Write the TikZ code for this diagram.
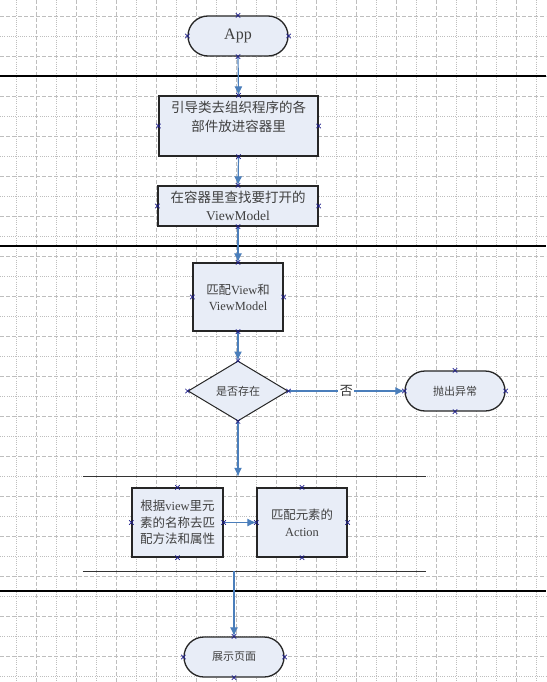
\documentclass[tikz,border=0pt]{standalone}
\usepackage{fontspec}
\setmainfont{Liberation Serif}
\newfontfamily\cjk{Noto Sans CJK SC}
\usetikzlibrary{shapes.geometric,arrows.meta}
\definecolor{boxfill}{HTML}{E8EDF7}
\definecolor{flowblue}{HTML}{4A7EBB}
\definecolor{pinblue}{HTML}{1C1C8A}
\definecolor{gridgray}{HTML}{BEBEBE}
\newcommand\zh[1]{{\cjk #1}}
\newcommand\fs[2]{\fontsize{#1}{#2}\selectfont}

\tikzset{
  proc/.style={draw=black!85, line width=1.3pt, fill=boxfill, inner sep=0pt,
    align=center, text=black!75},
  term/.style={proc, rounded corners=20pt, minimum width=100pt, minimum height=40pt},
  decide/.style={proc, diamond, aspect=1.667, line width=1pt,
    minimum width=100pt, minimum height=60pt},
  flow/.style={flowblue, line width=1.2pt, -{Latex[length=9pt,width=8pt]}},
  pin/.style={pinblue, line width=0.7pt},
  lane/.style={black, line width=1.8pt},
  grpline/.style={black!80, line width=1.3pt},
  griddash/.style={gridgray, line width=0.8pt, dash pattern=on 4pt off 2pt},
  griddot/.style={gridgray, line width=0.8pt, dash pattern=on 1pt off 1.2pt},
}

\begin{document}
\begin{tikzpicture}[x=1pt,y=-1pt]
  \useasboundingbox[fill=white] (0,0) rectangle (546,682);
  % page grid
  \foreach \i in {0,...,26}{
    \pgfmathsetmacro\gx{16.7+20*\i}
    \ifodd\i \draw[griddash] (\gx,0) -- (\gx,682); \else \draw[griddot] (\gx,0) -- (\gx,682); \fi
  }
  \foreach \i in {0,...,33}{
    \pgfmathsetmacro\gy{16+20*\i}
    \ifodd\i \draw[griddot] (0,\gy) -- (546,\gy); \else \draw[griddash] (0,\gy) -- (546,\gy); \fi
  }
  \draw[lane] (0,76) -- (546,76);
  \draw[lane] (0,246) -- (546,246);
  \draw[lane] (0,591) -- (546,591);

  % shapes
  \node[term, font=\fs{16}{18}] (app) at (238,36) {App};
  \node[proc, minimum width=159pt, minimum height=60pt] (b1) at (238.5,126) {};
  \node[align=center, text=black!75, inner sep=0pt, font=\fs{13.5}{19}] (b1txt) at (238.5,117)
    {\zh{引导类去组织程序的各}\\\zh{部件放进容器里}};
  \node[proc, minimum width=160pt, minimum height=40pt, font=\fs{13.5}{18}] (b2) at (238,206)
    {\zh{在容器里查找要打开的}\\ViewModel};
  \node[proc, minimum width=90pt, minimum height=68pt, font=\fs{12.4}{16}] (b3) at (238,297)
    {\zh{匹配}View\zh{和}\\ViewModel};
  \node[decide, font=\fs{11}{13}] (dec) at (238,391) {\zh{是否存在}};
  \node[term, font=\fs{11}{13}] (exc) at (455,391) {\zh{抛出异常}};
  \node[minimum width=343pt, minimum height=94pt, inner sep=0pt] (grp) at (254.5,524) {};
  \draw[grpline] (grp.north west) -- (grp.north east);
  \draw[grpline] (grp.south west) -- (grp.south east);
  \node[proc, minimum width=91pt, minimum height=69pt, font=\fs{12.5}{16.5}] (b4) at (177.5,522.5)
    {\zh{根据}view\zh{里元}\\\zh{素的名称去匹}\\\zh{配方法和属性}};
  \node[proc, minimum width=90pt, minimum height=69pt, font=\fs{12.4}{17}] (b5) at (302,522.5)
    {\zh{匹配元素的}\\Action};
  \node[term, font=\fs{11}{13}] (show) at (234,657) {\zh{展示页面}};

  % connectors
  \draw[flow] (app.south) -- (b1.north);
  \draw[flow] (b1.south) -- (b2.north);
  \draw[flow] (b2.south) -- (b3.north);
  \draw[flow] (b3.south) -- (dec.north);
  \draw[flow] (dec.east) -- node[fill=white, inner sep=1.5pt, text=black!80, font=\fs{13}{14}] (no) {\zh{否}} (exc.west);
  \draw[flow] (dec.south) -- (dec.south |- grp.north);
  \draw[flow] (b4.east) -- (b5.west);
  \draw[flow] (show.north |- grp.south) -- (show.north);

  % connection points
  \foreach \n in {app,b1,b2,b3,dec,exc,b4,b5,show}
    \foreach \a in {north,south,east,west}
      \draw[pin] ([shift={(-2.2pt,-2.2pt)}]\n.\a) -- ([shift={(2.2pt,2.2pt)}]\n.\a)
                 ([shift={(-2.2pt,2.2pt)}]\n.\a) -- ([shift={(2.2pt,-2.2pt)}]\n.\a);
\end{tikzpicture}
\end{document}
